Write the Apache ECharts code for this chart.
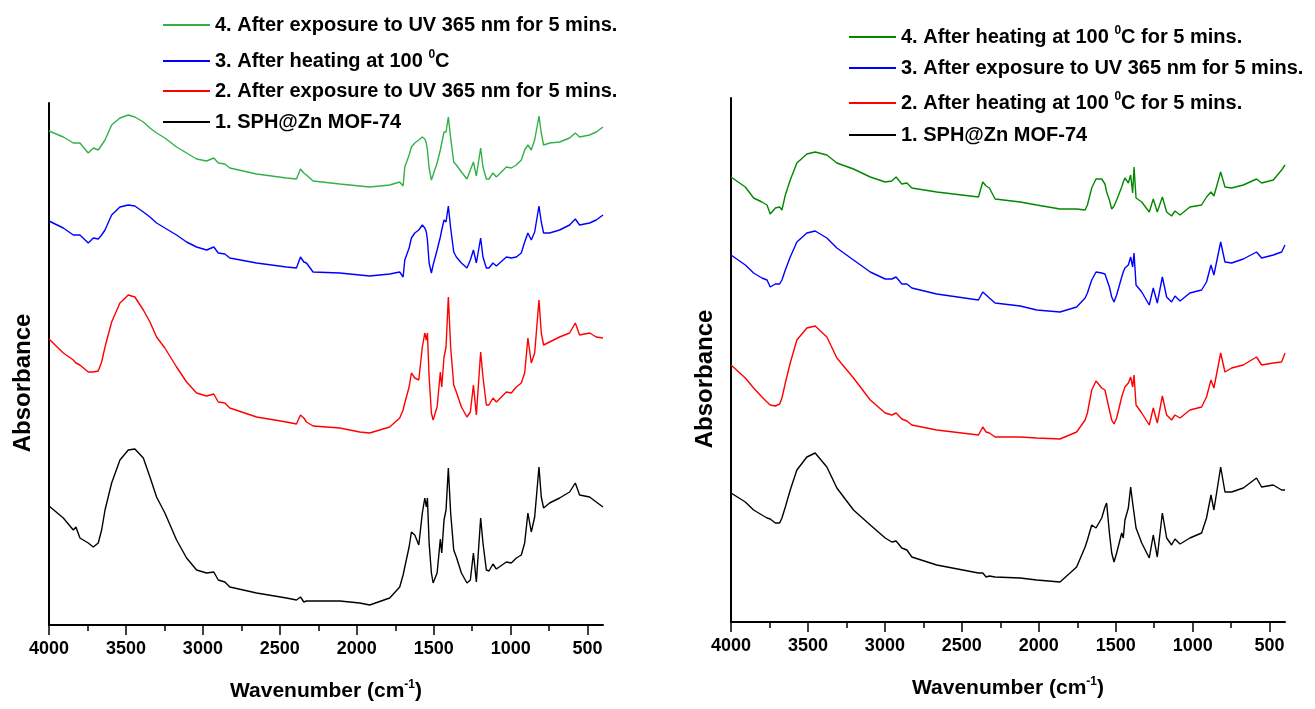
<!DOCTYPE html>
<html>
<head>
<meta charset="utf-8">
<script src="https://cdn.jsdelivr.net/npm/echarts@6/dist/echarts.min.js"></script>
<style>
html,body{margin:0;padding:0;background:#fff}
#chart{width:1315px;height:709px}
</style>
</head>
<body>
<div id="chart"></div>
<script>
// ---- left panel: wavenumbers (cm-1) and absorbance (a.u., offset traces)
var wnLeft = [4000,3907,3842,3825,3799,3745,3712,3680,3658,3636,3593,3539,3485,3442,3387,3344,3301,3247,3171,3106,
  3041,2976,2929,2900,2857,2825,2651,2457,2392,2366,2344,2327,2284,2110,1981,1916,1786,1721,1699,1688,
  1660,1645,1623,1597,1574,1558,1548,1541,1530,1515,1504,1478,1457,1448,1433,1420,1405,1390,1370,1353,
  1320,1284,1262,1242,1223,1195,1180,1158,1141,1115,1093,1028,996,963,931,909,888,866,844,816,
  801,786,747,682,617,580,552,487,444,400];
var left1 = [1.19,1.07,0.95,0.98,0.87,0.82,0.78,0.82,0.95,1.15,1.42,1.65,1.75,1.76,1.67,1.48,1.28,1.12,0.85,0.67,
  0.55,0.52,0.53,0.45,0.43,0.38,0.32,0.27,0.25,0.28,0.23,0.24,0.24,0.24,0.22,0.20,0.27,0.38,0.50,0.58,
  0.78,0.93,0.90,0.80,1.12,1.27,1.18,1.27,0.82,0.52,0.42,0.52,0.86,0.72,1.05,1.15,1.57,1.12,0.75,0.68,
  0.52,0.42,0.45,0.72,0.43,1.07,0.82,0.55,0.54,0.61,0.56,0.63,0.62,0.67,0.70,0.82,1.12,0.93,1.08,1.58,
  1.28,1.17,1.22,1.27,1.33,1.42,1.30,1.28,1.23,1.18];
var left2 = [2.86,2.72,2.65,2.62,2.60,2.53,2.53,2.54,2.63,2.78,3.03,3.22,3.30,3.28,3.15,3.03,2.88,2.77,2.58,2.43,
  2.32,2.29,2.31,2.23,2.22,2.17,2.08,2.03,2.01,2.10,2.07,2.03,1.99,1.97,1.93,1.92,1.98,2.07,2.15,2.22,
  2.38,2.52,2.47,2.45,2.78,2.92,2.85,2.92,2.48,2.12,2.05,2.18,2.53,2.38,2.68,2.78,3.28,2.78,2.40,2.33,
  2.18,2.08,2.13,2.40,2.10,2.73,2.48,2.20,2.20,2.27,2.23,2.33,2.32,2.38,2.42,2.52,2.87,2.62,2.72,3.25,
  2.92,2.80,2.83,2.88,2.92,3.02,2.90,2.92,2.88,2.87];
var left3 = [4.04,3.97,3.90,3.90,3.90,3.82,3.87,3.86,3.90,3.95,4.10,4.18,4.20,4.19,4.13,4.08,4.02,3.97,3.90,3.83,
  3.78,3.75,3.78,3.72,3.71,3.67,3.62,3.58,3.57,3.68,3.63,3.62,3.53,3.52,3.50,3.49,3.51,3.53,3.48,3.65,
  3.77,3.87,3.92,3.95,4.00,3.97,3.93,3.85,3.62,3.52,3.60,3.75,3.88,3.95,4.05,4.03,4.19,3.97,3.73,3.68,
  3.62,3.57,3.65,3.75,3.62,3.87,3.68,3.57,3.57,3.62,3.59,3.68,3.67,3.68,3.72,3.83,3.92,3.85,3.93,4.19,
  4.03,3.92,3.92,3.95,4.00,4.06,4.00,4.02,4.05,4.10];
var left4 = [4.94,4.88,4.82,4.82,4.82,4.72,4.77,4.75,4.80,4.85,5.00,5.07,5.10,5.08,5.03,4.97,4.92,4.87,4.78,4.72,
  4.66,4.64,4.67,4.62,4.61,4.57,4.51,4.47,4.46,4.56,4.52,4.50,4.44,4.41,4.39,4.38,4.40,4.43,4.39,4.58,
  4.70,4.78,4.82,4.85,4.88,4.86,4.82,4.75,4.57,4.45,4.50,4.62,4.75,4.82,4.93,4.93,5.08,4.87,4.63,4.60,
  4.53,4.46,4.55,4.63,4.49,4.77,4.58,4.46,4.46,4.52,4.48,4.58,4.57,4.60,4.65,4.75,4.80,4.75,4.85,5.09,
  4.92,4.80,4.82,4.83,4.87,4.92,4.88,4.90,4.93,4.98];

// ---- right panel
var wnRight = [4000,3907,3853,3799,3766,3745,3712,3684,3669,3647,3615,3572,3507,3453,3377,3312,3204,3095,2998,2955,
  2927,2890,2857,2825,2663,2392,2364,2342,2321,2284,2121,2013,1862,1754,1699,1684,1656,1628,1591,1570,
  1559,1541,1526,1511,1494,1461,1451,1440,1418,1403,1390,1381,1368,1331,1282,1256,1230,1197,1169,1137,
  1115,1082,1018,942,910,881,862,818,790,747,671,585,552,476,422,400];
var right1 = [1.29,1.20,1.12,1.07,1.04,1.03,0.99,0.99,1.04,1.15,1.32,1.52,1.65,1.69,1.55,1.34,1.12,0.97,0.84,0.80,
  0.81,0.74,0.72,0.65,0.57,0.49,0.49,0.45,0.46,0.45,0.44,0.42,0.40,0.55,0.75,0.82,0.97,0.94,1.04,1.15,
  1.19,0.89,0.69,0.60,0.69,0.89,0.84,1.02,1.14,1.35,1.19,1.17,0.94,0.79,0.64,0.87,0.65,1.09,0.84,0.77,
  0.83,0.78,0.84,0.89,1.04,1.27,1.12,1.55,1.30,1.30,1.34,1.44,1.35,1.37,1.32,1.32];
var right2 = [2.57,2.44,2.34,2.25,2.20,2.17,2.16,2.18,2.24,2.39,2.59,2.82,2.94,2.96,2.85,2.64,2.44,2.22,2.09,2.07,
  2.09,2.03,2.01,1.97,1.92,1.87,1.95,1.90,1.89,1.85,1.85,1.84,1.83,1.90,2.02,2.09,2.32,2.41,2.34,2.32,
  2.30,2.12,2.02,1.98,2.04,2.25,2.30,2.35,2.39,2.45,2.35,2.47,2.17,2.09,1.97,2.14,1.99,2.26,2.07,2.02,
  2.07,2.04,2.12,2.15,2.25,2.42,2.34,2.69,2.50,2.54,2.57,2.65,2.57,2.59,2.60,2.69];
var right3 = [3.67,3.57,3.49,3.44,3.42,3.35,3.38,3.38,3.42,3.52,3.65,3.80,3.89,3.91,3.84,3.74,3.62,3.50,3.43,3.43,
  3.45,3.38,3.38,3.34,3.28,3.22,3.30,3.27,3.24,3.19,3.16,3.12,3.10,3.15,3.24,3.29,3.42,3.50,3.49,3.48,
  3.49,3.35,3.25,3.20,3.27,3.45,3.50,3.54,3.57,3.65,3.55,3.69,3.37,3.30,3.17,3.34,3.19,3.45,3.25,3.20,
  3.26,3.21,3.29,3.32,3.40,3.57,3.47,3.80,3.60,3.59,3.63,3.70,3.64,3.67,3.70,3.77];
var right4 = [4.45,4.35,4.24,4.20,4.17,4.08,4.14,4.15,4.12,4.27,4.42,4.59,4.68,4.70,4.67,4.59,4.53,4.45,4.40,4.41,
  4.45,4.38,4.39,4.34,4.30,4.25,4.40,4.36,4.34,4.23,4.20,4.17,4.13,4.13,4.12,4.17,4.34,4.43,4.43,4.38,
  4.30,4.22,4.13,4.16,4.22,4.35,4.40,4.44,4.39,4.47,4.29,4.55,4.24,4.20,4.10,4.23,4.10,4.25,4.10,4.06,
  4.11,4.07,4.15,4.17,4.25,4.30,4.26,4.50,4.35,4.34,4.37,4.43,4.39,4.42,4.52,4.57];

var majorTicks = [4000,3500,3000,2500,2000,1500,1000,500];
var minorTicks = [3750,3250,2750,2250,1750,1250,750];

var namesLeft = ['4. After exposure to UV 365 nm for 5 mins.', '3. After heating at 100 °C',
  '2. After exposure to UV 365 nm for 5 mins.', '1. SPH@Zn MOF-74'];
var namesRight = ['4. After heating at 100 °C for 5 mins.', '3. After exposure to UV 365 nm for 5 mins.',
  '2. After heating at 100 °C for 5 mins.', '1. SPH@Zn MOF-74'];

var FONT = "'Liberation Sans',Arial,sans-serif";

function pairs(wn, vals) {
  return wn.map(function (w, i) { return [w, vals[i]]; });
}

function mainX(grid) {
  return {
    gridIndex: grid, type: 'value', min: 400, max: 4000, inverse: true, position: 'bottom',
    axisLine: {show: true, onZero: false, lineStyle: {color: '#000', width: 2}},
    axisTick: {show: true, length: 10, lineStyle: {color: '#000', width: 1.5}, customValues: majorTicks},
    axisLabel: {show: true, customValues: majorTicks, margin: 15, color: '#000',
      fontFamily: FONT, fontWeight: 'bold', fontSize: 18,
      formatter: function (v) { return String(v); }},
    splitLine: {show: false},
    name: 'Wavenumber (cm{s|-1})', nameLocation: 'middle', nameGap: 54,
    nameTextStyle: {color: '#000', fontFamily: FONT, fontWeight: 'bold', fontSize: 21,
      rich: {s: {fontFamily: FONT, fontWeight: 'bold', fontSize: 12, padding: [0, 0, 12, 0]}}}
  };
}
function minorX(grid) {
  return {
    gridIndex: grid, type: 'value', min: 400, max: 4000, inverse: true, position: 'bottom',
    axisLine: {show: false},
    axisTick: {show: true, length: 6, lineStyle: {color: '#000', width: 1.5}, customValues: minorTicks},
    axisLabel: {show: false}, splitLine: {show: false}
  };
}
function yAx(grid, max) {
  return {
    gridIndex: grid, type: 'value', min: 0, max: max,
    axisLine: {show: true, onZero: false, lineStyle: {color: '#000', width: 2}},
    axisTick: {show: false}, axisLabel: {show: false}, splitLine: {show: false},
    name: 'Absorbance', nameLocation: 'middle', nameGap: 14,
    nameTextStyle: {color: '#000', fontFamily: FONT, fontWeight: 'bold', fontSize: 24, padding: [0, 38, 0, 0]}
  };
}
function line(name, xi, yi, wn, vals, color) {
  return {
    name: name, type: 'line', xAxisIndex: xi, yAxisIndex: yi, data: pairs(wn, vals),
    symbol: 'none', color: color, lineStyle: {color: color, width: 1.4}, animation: false
  };
}
function leg(name, left, top) {
  return {
    data: [name], left: left, top: top, padding: 0, icon: 'rect', itemWidth: 47, itemHeight: 2,
    selectedMode: false,
    formatter: function (n) { return n.replace('°', '{s|0}'); },
    textStyle: {color: '#000', fontFamily: FONT, fontWeight: 'bold', fontSize: 20, lineHeight: 24,
      rich: {s: {fontFamily: FONT, fontWeight: 'bold', fontSize: 12, lineHeight: 12, padding: [0, 0, 12, 0]}}}
  };
}

var chart = echarts.init(document.getElementById('chart'));
chart.setOption({
  animation: false,
  backgroundColor: '#fff',
  grid: [
    {left: 49, top: 103, width: 554, height: 522},
    {left: 731, top: 98, width: 554, height: 524}
  ],
  xAxis: [mainX(0), minorX(0), mainX(1), minorX(1)],
  yAxis: [yAx(0, 5.22), yAx(1, 5.24)],
  legend: [
    leg(namesLeft[0], 163, 13), leg(namesLeft[1], 163, 49), leg(namesLeft[2], 163, 79), leg(namesLeft[3], 163, 110),
    leg(namesRight[0], 849, 25), leg(namesRight[1], 849, 56), leg(namesRight[2], 849, 91), leg(namesRight[3], 849, 123)
  ],
  series: [
    line(namesLeft[3], 0, 0, wnLeft, left1, '#000000'),
    line(namesLeft[2], 0, 0, wnLeft, left2, '#ff0000'),
    line(namesLeft[1], 0, 0, wnLeft, left3, '#0000ff'),
    line(namesLeft[0], 0, 0, wnLeft, left4, '#33b04a'),
    line(namesRight[3], 2, 1, wnRight, right1, '#000000'),
    line(namesRight[2], 2, 1, wnRight, right2, '#ff0000'),
    line(namesRight[1], 2, 1, wnRight, right3, '#0000ff'),
    line(namesRight[0], 2, 1, wnRight, right4, '#008800')
  ]
});
</script>
</body>
</html>
